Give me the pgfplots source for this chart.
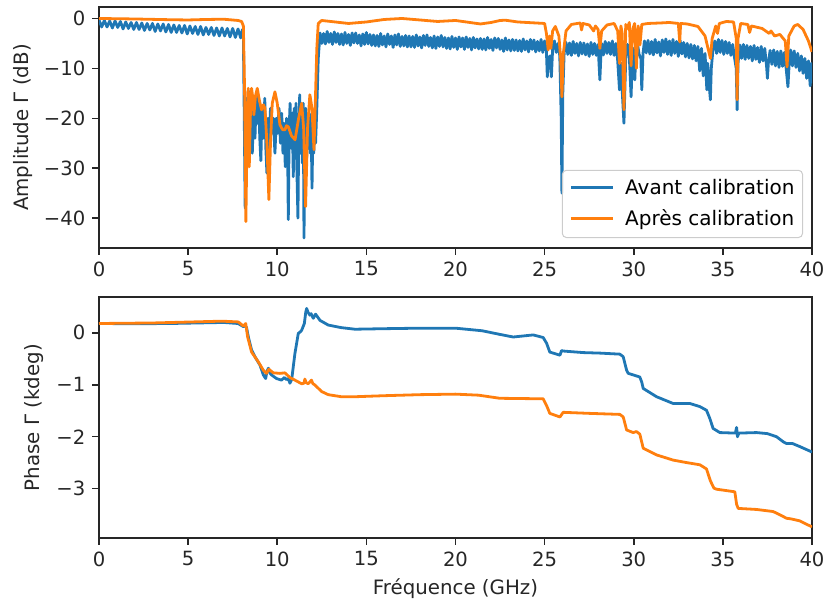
\documentclass[border=0pt]{standalone}
\usepackage{fontspec}
\setmainfont{DejaVu Sans}
\usepackage{pgfplots}
\pgfplotsset{compat=1.18}
\definecolor{mblue}{HTML}{1F77B4}
\definecolor{morange}{HTML}{FF7F0E}
\begin{document}
\begin{tikzpicture}
\useasboundingbox (-49.5pt,3.5pt) rectangle (364.5pt,-296.5pt);
\pgfplotsset{
  every axis/.append style={
    width=356.5pt, height=120.5pt, scale only axis,
    xmin=0, xmax=40, xtick={0,5,...,40},
    xticklabels={0,5,10,15,20,25,30,35,40},
    tick pos=left,
    tick align=outside, major tick length=3.3pt,
    tick style={line width=0.76pt, black!85},
    axis line style={line width=0.76pt, black!85},
    ticklabel style={font=\fontsize{9.8}{11.8}\selectfont, text=black!85},
    label style={font=\fontsize{9.9}{11.9}\selectfont, text=black!85},
    /pgf/number format/assume math mode=true,
  }
}
\begin{axis}[
  at={(0,0)}, anchor=north west,
  ymin=-46, ymax=2.3,
  ytick={-40,-30,-20,-10,0}, yticklabels={−40,−30,−20,−10,0},
  ylabel={Amplitude Γ (dB)},
  ylabel style={at={(axis description cs:-0.107,0.5)}, anchor=center},
  legend style={at={(1,0)}, anchor=south east, xshift=-4.5pt, yshift=5pt,
    draw=black!20, line width=0.5pt, rounded corners=2pt, fill=white, fill opacity=0.8, text opacity=1,
    font=\fontsize{10}{12}\selectfont, inner xsep=2pt, inner ysep=2.5pt, row sep=2pt},
  legend cell align=left,
  legend image code/.code={\path (-1.5pt,0pt); \draw[#1, line width=1.4pt, sharp corners] (0pt,0.3pt) -- (21pt,0.3pt); \path (24.5pt,0pt);},
]
\addplot[mblue, line width=1.4pt, line join=round] coordinates {
(0,-0.3)(0.15,-1.7)(0.3,-0.4)(0.45,-1.7)(0.6,-0.5)(0.75,-1.9)(0.9,-0.5)(1.05,-1.8)(1.2,-0.6)(1.35,-2.1)(1.5,-0.7)(1.65,-2.0)(1.8,-0.8)(1.95,-2.2)(2.1,-0.8)(2.25,-2.2)(2.4,-0.9)(2.55,-2.4)(2.7,-1.0)(2.85,-2.3)(3.0,-1.0)(3.15,-2.6)(3.3,-1.1)(3.45,-2.5)(3.6,-1.1)(3.75,-2.7)(3.9,-1.2)(4.05,-2.8)(4.2,-1.3)(4.35,-2.8)(4.5,-1.4)(4.65,-2.9)(4.8,-1.4)(4.95,-3.1)(5.1,-1.5)(5.25,-3.0)(5.4,-1.6)(5.55,-3.2)(5.7,-1.6)(5.85,-3.3)(6.0,-1.8)(6.15,-3.2)(6.3,-1.8)(6.45,-3.4)(6.6,-1.9)(6.75,-3.5)(6.9,-1.9)(7.05,-3.5)(7.2,-2.0)(7.35,-3.7)(7.5,-2.0)(7.65,-3.8)(7.8,-2.1)(7.95,-3.9)(8.05,-2.2)
(8.10,-3.5)(8.15,-20)(8.20,-38)(8.25,-16)(8.30,-25)(8.38,-14.5)(8.45,-22)(8.52,-16)(8.60,-27)(8.68,-18)(8.75,-24)(8.82,-16)(8.90,-21)(8.95,-15.5)(9.02,-24)(9.08,-28.5)(9.15,-18)(9.22,-24)(9.30,-16)(9.36,-26)(9.42,-31)(9.48,-20)(9.55,-26)(9.62,-18)(9.70,-23)(9.78,-20)(9.87,-27)(9.95,-20)(10.02,-23)(10.10,-18)(10.18,-25)(10.25,-19)(10.32,-27)(10.38,-21)(10.45,-29.7)(10.52,-20)(10.58,-25)(10.62,-40.3)(10.67,-22)(10.72,-17)(10.78,-26)(10.84,-19)(10.90,-31.7)(10.95,-18)(11.00,-28)(11.05,-17)(11.10,-30)(11.16,-40)(11.21,-22)(11.26,-15.3)(11.31,-27)(11.36,-20)(11.41,-29)(11.46,-17)(11.50,-44)(11.55,-25)(11.60,-18)(11.65,-28)(11.70,-20)(11.75,-26)(11.80,-19)(11.85,-27)(11.90,-21)(11.95,-34)(12.00,-22)(12.05,-27)(12.10,-20)(12.15,-25)(12.22,-18)(12.30,-8)(12.38,-4.0)
(12.4,-2.9)(12.5,-5.0)(12.6,-3.0)(12.7,-5.1)(12.8,-2.6)(12.9,-4.8)(13.0,-3.0)(13.1,-5.2)(13.2,-2.7)(13.3,-4.8)
(13.4,-3.0)(13.5,-5.2)(13.6,-3.1)(13.7,-5.3)(13.8,-2.8)(13.9,-5.0)(14.0,-3.2)(14.1,-5.4)(14.2,-2.9)(14.3,-4.9)
(14.4,-2.9)(14.5,-5.0)(14.6,-3.3)(14.7,-5.5)(14.8,-3.1)(14.9,-5.2)(15.0,-2.8)(15.1,-5.1)(15.2,-3.2)(15.3,-5.4)
(15.4,-3.3)(15.5,-5.5)(15.6,-3.4)(15.7,-5.6)(15.8,-3.0)(15.9,-5.3)(16.0,-3.5)(16.1,-5.7)(16.2,-3.1)(16.3,-5.2)
(16.4,-3.5)(16.5,-5.8)(16.6,-3.3)(16.7,-5.3)(16.8,-3.1)(16.9,-5.6)(17.0,-3.6)(17.1,-5.5)(17.2,-3.4)(17.3,-5.7)
(17.4,-3.5)(17.5,-5.7)(17.6,-3.6)(17.7,-5.8)(17.8,-3.3)(17.9,-5.5)(18.0,-3.7)(18.1,-5.9)(18.2,-3.4)(18.3,-5.4)
(18.4,-3.3)(18.5,-5.6)(18.6,-3.8)(18.7,-5.9)(18.8,-3.5)(18.9,-6.0)(19.0,-3.7)(19.1,-5.6)(19.2,-3.4)(19.3,-5.7)
(19.4,-3.8)(19.5,-6.0)(19.6,-3.9)(19.7,-6.1)(19.8,-3.6)(19.9,-5.8)(20.0,-3.9)(20.1,-6.2)(20.2,-3.7)(20.3,-5.7)
(20.4,-3.9)(20.5,-6.2)(20.6,-3.7)(20.7,-5.8)(20.8,-4.0)(20.9,-6.3)(21.0,-3.8)(21.1,-5.9)(21.2,-4.1)(21.3,-6.1)
(21.4,-4.0)(21.5,-6.2)(21.6,-4.1)(21.7,-6.3)(21.8,-3.8)(21.9,-6.0)(22.0,-4.2)(22.1,-6.4)(22.2,-3.9)(22.3,-5.9)
(22.4,-4.0)(22.5,-6.2)(22.6,-4.3)(22.7,-6.6)(22.8,-3.9)(22.9,-6.3)(23.0,-4.3)(23.1,-6.5)(23.2,-4.2)(23.3,-6.4)
(23.4,-4.3)(23.5,-6.5)(23.6,-4.4)(23.7,-6.6)(23.8,-4.1)(23.9,-6.3)(24.0,-4.5)(24.1,-6.7)(24.2,-4.2)(24.3,-6.2)
(24.4,-4.3)(24.5,-6.7)(24.6,-4.6)(24.7,-6.5)(24.8,-4.2)(24.9,-6.8)(25.0,-4.5)
(25.1,-6.5)(25.15,-11.7)(25.22,-8.0)(25.3,-7.5)(25.38,-11.7)(25.45,-6.0)(25.55,-4.5)(25.65,-6.8)(25.75,-5.0)(25.85,-7.5)(25.93,-20)(25.97,-35)(26.02,-15)(26.1,-6.5)
(26.2,-4.8)(26.3,-7.2)(26.4,-4.9)(26.5,-7.4)(26.6,-4.6)(26.7,-7.0)(26.8,-5.0)(26.9,-7.5)(27.0,-4.8)(27.1,-7.1)(27.2,-4.9)(27.3,-7.3)(27.4,-5.1)(27.5,-7.6)(27.6,-4.8)(27.7,-7.2)(27.8,-5.0)(27.9,-7.4)(28.0,-5.2)(28.05,-9)(28.1,-12.3)(28.15,-8)
(28.2,-5.0)(28.3,-7.3)(28.4,-4.6)(28.5,-7.0)(28.6,-4.8)(28.7,-7.2)(28.8,-4.5)(28.9,-7.4)(29.0,-5.0)(29.1,-8.5)(29.2,-14.3)(29.3,-9)(29.35,-14.3)(29.45,-21)(29.55,-8)(29.65,-5.2)(29.75,-7.5)(29.85,-15.7)(29.92,-8)(30.0,-6.0)(30.06,-12.3)(30.12,-6.5)(30.2,-4.8)(30.3,-7.2)(30.4,-8)(30.45,-14.3)(30.52,-7)(30.6,-4.5)(30.7,-6.9)
(30.8,-4.4)(30.9,-7.1)(31.0,-4.6)(31.1,-7.3)(31.2,-4.2)(31.3,-6.9)(31.4,-4.7)(31.5,-7.5)(31.6,-4.3)(31.7,-6.8)(31.8,-4.1)(31.9,-7.2)(32.0,-4.5)(32.1,-7.4)(32.2,-4.2)(32.3,-7.0)(32.4,-4.6)(32.5,-7.6)(32.6,-4.4)(32.7,-7.1)(32.8,-4.8)(32.9,-7.7)(33.0,-5.0)(33.1,-7.9)(33.2,-5.2)(33.3,-8.1)(33.4,-5.4)(33.5,-8.5)(33.6,-5.6)(33.7,-10.5)(33.8,-6.0)(33.9,-11.5)(34.0,-7.0)(34.1,-14.3)(34.15,-9)(34.2,-12)(34.3,-16.3)(34.35,-10)
(34.45,-6.0)(34.55,-4.5)(34.65,-7.0)(34.75,-4.2)(34.85,-6.8)(34.95,-4.4)(35.05,-7.2)(35.15,-4.6)(35.25,-7.0)(35.35,-4.8)(35.45,-7.4)(35.55,-5.2)(35.65,-7.8)(35.75,-10)(35.8,-18.3)(35.85,-9)
(35.95,-5.3)(36.05,-8.0)(36.15,-5.2)(36.25,-8.2)(36.35,-5.4)(36.45,-8.0)(36.55,-5.6)(36.65,-8.5)(36.75,-5.4)(36.85,-8.2)(36.95,-5.8)(37.05,-8.8)(37.15,-5.6)(37.25,-8.5)(37.35,-6.0)(37.45,-9.5)(37.5,-12)(37.55,-9)
(37.65,-6.4)(37.75,-9.2)(37.85,-6.3)(37.95,-9.5)(38.05,-6.6)(38.15,-9.8)(38.25,-6.5)(38.35,-9.6)(38.45,-6.8)(38.55,-10)(38.65,-13.7)(38.72,-9)
(38.8,-6.3)(38.9,-9.5)(39.0,-6.5)(39.1,-9.8)(39.2,-7.0)(39.3,-10.5)(39.4,-7.5)(39.5,-11.0)(39.6,-8.0)(39.7,-12.0)(39.8,-8.5)(39.9,-13.5)(39.95,-9.0)(40.0,-13.0)
};
\addlegendentry{Avant calibration}
\addplot[morange, line width=1.4pt, line join=round] coordinates {
(0,0.0)(2,-0.1)(4,-0.25)(5,-0.3)(6,-0.2)(7,-0.15)(7.8,-0.4)(8.0,-0.6)(8.1,-1.5)(8.17,-15)(8.24,-40.7)(8.3,-25)(8.37,-14.0)(8.43,-29.7)(8.5,-18)(8.56,-14.0)(8.63,-16)(8.69,-19.3)(8.78,-15.5)(8.88,-14.0)(9.0,-16.5)(9.12,-18.3)(9.22,-17.3)(9.31,-18)(9.42,-25)(9.53,-36.3)(9.62,-25)(9.72,-17)(9.87,-14.7)(10.0,-17)(10.15,-21.3)(10.3,-22.3)(10.43,-22.3)(10.52,-21.5)(10.62,-21.7)(10.8,-23.5)(11.0,-24.3)(11.2,-20)(11.37,-17)(11.48,-22)(11.59,-37.7)(11.7,-22)(11.83,-15.3)(11.95,-18)(12.06,-26.3)(12.15,-15)(12.22,-6)(12.30,-1.0)(12.49,-0.4)
(13,-0.6)(14,-1.0)(15,-0.7)(16,-0.2)(17,0.0)(18,-0.3)(19,-0.6)(20,-0.4)(21,-0.9)(21.4,-1.1)(22,-0.8)(22.5,-0.4)(22.8,-0.35)(23.5,-0.7)(24.5,-0.9)(25.0,-1.0)
(25.1,-3)(25.2,-6.3)(25.28,-3.5)(25.35,-6.0)(25.45,-2.5)(25.6,-1.6)(25.8,-3.5)(25.9,-8)(25.97,-15.7)(26.05,-7)(26.2,-2.5)(26.5,-1.2)(27.0,-0.9)(27.07,-2.3)(27.15,-1.0)(27.5,-1.3)(27.75,-2.5)(27.85,-1.5)(28.0,-2.2)(28.1,-6.0)(28.2,-2.5)(28.5,-1.3)(28.9,-1.0)(29.1,-2.5)(29.2,-9)(29.28,-1.5)(29.35,-3)(29.45,-18.3)(29.55,-1.2)(29.65,-2.0)(29.75,-0.8)(29.85,-9.5)(29.95,-2)(30.05,-1.0)(30.15,-10)(30.25,-1.5)(30.35,-5.3)(30.45,-1.2)(30.8,-1.0)(31.5,-0.9)(32.0,-0.8)(32.5,-1.0)(32.58,-4.7)(32.63,-1.0)(33.0,-1.1)(33.6,-1.6)(34.0,-3.5)(34.3,-8.0)(34.4,-4)(34.6,-1.5)(34.7,-3.0)(34.8,-1.0)(35.2,-0.6)(35.6,-0.7)(35.75,-4)(35.8,-16.3)(35.85,-4)(36.0,-1.0)(36.4,-1.2)(36.5,-2.8)(36.6,-1.5)(37.2,-2.0)(37.6,-3.0)(37.7,-2.5)(37.9,-3.5)(38.2,-3.2)(38.5,-4.5)(38.6,-9.7)(38.7,-3.5)(39.0,-1.5)(39.2,-1.2)(39.5,-2.2)(39.8,-4.5)(40.0,-6.7)
};
\addlegendentry{Après calibration}
\end{axis}
\begin{axis}[
  at={(0,-145pt)}, anchor=north west,
  ymin=-3.95, ymax=0.69,
  ytick={-3,-2,-1,0}, yticklabels={−3,−2,−1,0},
  ylabel={Phase Γ (kdeg)},
  ylabel style={at={(axis description cs:-0.091,0.5)}, anchor=center},
  xlabel={Fréquence (GHz)},
  xlabel style={at={(axis description cs:0.5,-0.212)}, anchor=center},
]
\addplot[mblue, line width=1.4pt, line join=round] coordinates {
(0,0.18)(2,0.175)(4,0.18)(5.5,0.19)(7,0.2)(7.8,0.18)(8.1,0.12)(8.2,0.14)(8.28,0.1)(8.38,-0.08)(8.56,-0.33)(8.75,-0.46)(9.03,-0.62)(9.22,-0.81)(9.35,-0.88)(9.42,-0.75)(9.5,-0.68)(9.6,-0.78)(9.68,-0.81)(9.96,-0.88)(10.24,-0.91)(10.4,-0.86)(10.52,-0.9)(10.62,-0.88)(10.71,-0.97)(10.81,-0.9)(10.99,-0.40)(11.18,-0.01)(11.3,0.02)(11.37,0.05)(11.52,0.18)(11.6,0.4)(11.65,0.47)(11.72,0.4)(11.83,0.34)(11.9,0.37)(12.02,0.28)(12.15,0.36)(12.4,0.24)(12.86,0.15)(13.6,0.10)(14.36,0.07)(16,0.08)(18,0.09)(20,0.09)(21.5,0.04)(22.49,-0.03)(23.24,-0.08)(24.36,-0.04)(24.92,-0.09)(25.11,-0.2)(25.29,-0.37)(25.86,-0.43)(25.95,-0.34)(26.04,-0.35)(27.16,-0.38)(28.1,-0.39)(29.22,-0.41)(29.41,-0.46)(29.6,-0.72)(29.69,-0.78)(29.97,-0.81)(30.34,-0.85)(30.45,-0.95)(30.53,-1.07)(31.28,-1.23)(32.21,-1.36)(33.15,-1.36)(33.71,-1.42)(34.08,-1.49)(34.27,-1.65)(34.45,-1.84)(34.83,-1.92)(35.7,-1.93)(35.77,-1.82)(35.82,-2.0)(35.9,-1.93)(36.89,-1.92)(37.5,-1.94)(38.01,-2.0)(38.4,-2.1)(38.57,-2.13)(38.9,-2.13)(39.32,-2.19)(39.97,-2.29)(40,-2.3)
};
\addplot[morange, line width=1.4pt, line join=round] coordinates {
(0,0.18)(3,0.19)(6.9,0.225)(7.82,0.21)(8.1,0.13)(8.23,0.18)(8.34,-0.08)(8.56,-0.37)(8.94,-0.56)(9.22,-0.72)(9.4,-0.78)(9.53,-0.70)(9.78,-0.77)(10.15,-0.78)(10.43,-0.77)(10.71,-0.86)(10.99,-0.91)(11.37,-0.98)(11.5,-0.97)(11.55,-0.89)(11.62,-0.96)(11.74,-0.98)(11.92,-0.91)(12.0,-0.98)(12.1,-1.0)(12.49,-1.13)(12.86,-1.19)(13.6,-1.23)(14.36,-1.23)(16,-1.21)(18,-1.19)(20,-1.18)(21.3,-1.2)(22.49,-1.26)(24.92,-1.27)(25.11,-1.4)(25.29,-1.55)(25.86,-1.62)(26.04,-1.53)(27.5,-1.55)(29.22,-1.57)(29.41,-1.62)(29.6,-1.87)(29.97,-1.92)(30.15,-1.9)(30.34,-1.95)(30.53,-2.22)(31.28,-2.35)(32.21,-2.45)(33.0,-2.5)(33.71,-2.54)(34.08,-2.62)(34.3,-2.85)(34.5,-2.99)(34.64,-3.01)(35.67,-3.06)(35.77,-3.3)(35.86,-3.38)(36.89,-3.40)(37.82,-3.44)(38.3,-3.52)(38.57,-3.57)(38.8,-3.58)(39.32,-3.62)(39.6,-3.67)(39.97,-3.73)(40,-3.74)
};
\end{axis}
\end{tikzpicture}
\end{document}
